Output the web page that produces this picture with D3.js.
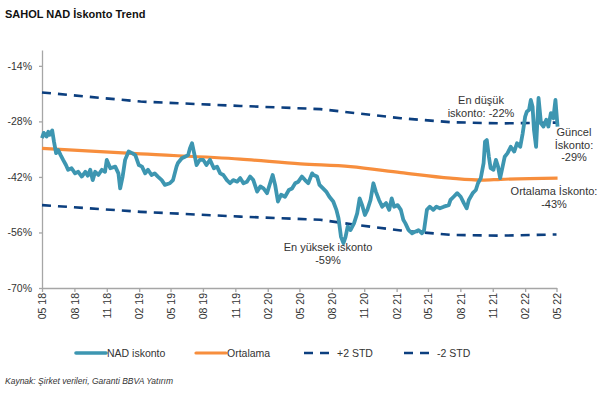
<!DOCTYPE html>
<html>
<head>
<meta charset="utf-8">
<script src="https://cdn.jsdelivr.net/npm/d3@7"></script>
<style>
  body { margin: 0; background: #fff; }
  text { font-family: "Liberation Sans", Arial, sans-serif; fill: #333; }
</style>
</head>
<body>
<div id="chart"></div>
<script>
// NAD iskonto (weekly-ish trace)
const navDates = ["2018-05-01","2018-05-06","2018-05-14","2018-05-19","2018-05-23","2018-05-30","2018-06-04","2018-06-10","2018-06-16","2018-06-23","2018-06-30","2018-07-08","2018-07-14","2018-07-24","2018-08-03","2018-08-12","2018-08-22","2018-09-01","2018-09-08","2018-09-15","2018-09-22","2018-09-29","2018-10-08","2018-10-18","2018-10-27","2018-11-01","2018-11-11","2018-11-25","2018-12-04","2018-12-09","2018-12-16","2018-12-23","2019-01-02","2019-01-12","2019-01-21","2019-01-31","2019-02-09","2019-02-18","2019-02-26","2019-03-08","2019-03-17","2019-03-26","2019-04-06","2019-04-15","2019-04-29","2019-05-08","2019-05-18","2019-05-22","2019-06-02","2019-06-11","2019-06-20","2019-06-25","2019-07-01","2019-07-07","2019-07-14","2019-07-23","2019-08-02","2019-08-11","2019-08-21","2019-09-01","2019-09-10","2019-09-19","2019-09-28","2019-10-08","2019-10-17","2019-10-26","2019-11-06","2019-11-15","2019-11-24","2019-12-04","2019-12-13","2019-12-22","2020-01-02","2020-01-11","2020-01-20","2020-01-30","2020-02-09","2020-02-15","2020-02-22","2020-03-01","2020-03-10","2020-03-21","2020-04-01","2020-04-10","2020-04-19","2020-04-28","2020-05-08","2020-05-17","2020-05-26","2020-06-06","2020-06-10","2020-06-20","2020-06-27","2020-07-07","2020-07-16","2020-07-25","2020-08-05","2020-08-14","2020-08-20","2020-08-27","2020-09-03","2020-09-09","2020-09-15","2020-09-23","2020-10-03","2020-10-12","2020-10-19","2020-10-26","2020-11-03","2020-11-10","2020-11-19","2020-11-27","2020-12-04","2020-12-13","2020-12-22","2021-01-02","2021-01-11","2021-01-18","2021-01-25","2021-02-04","2021-02-13","2021-02-20","2021-02-26","2021-03-07","2021-03-17","2021-03-26","2021-04-04","2021-04-14","2021-04-20","2021-04-28","2021-05-06","2021-05-16","2021-05-25","2021-06-04","2021-06-15","2021-06-29","2021-07-04","2021-07-13","2021-07-23","2021-08-02","2021-08-11","2021-08-19","2021-08-25","2021-09-05","2021-09-14","2021-09-20","2021-09-28","2021-10-06","2021-10-10","2021-10-15","2021-10-21","2021-10-26","2021-11-03","2021-11-10","2021-11-16","2021-11-22","2021-11-29","2021-12-05","2021-12-13","2021-12-22","2022-01-01","2022-01-09","2022-01-18","2022-01-25","2022-02-01","2022-02-06","2022-02-12","2022-02-17","2022-02-22","2022-02-26","2022-03-04","2022-03-11","2022-03-18","2022-03-25","2022-04-02","2022-04-08","2022-04-15","2022-04-22","2022-04-28","2022-05-04"];
const navValues = [-32.2,-30.9,-31.8,-30.6,-31.4,-30.3,-33.1,-36.0,-35.2,-36.5,-37.7,-39.0,-40.2,-39.8,-41.1,-40.7,-41.9,-40.7,-41.7,-40.2,-42.8,-40.7,-41.5,-40.2,-40.7,-37.7,-39.8,-39.4,-41.1,-44.9,-41.9,-37.7,-35.6,-36.0,-36.5,-39.0,-39.4,-41.1,-40.2,-41.5,-41.1,-41.9,-42.8,-44.0,-43.6,-42.8,-39.4,-38.5,-37.3,-36.9,-36.5,-34.8,-33.5,-36.0,-39.0,-37.7,-37.7,-39.0,-37.7,-39.8,-39.4,-41.1,-41.5,-42.8,-43.6,-42.8,-43.2,-42.3,-43.6,-43.2,-41.9,-42.8,-45.7,-44.4,-44.9,-46.1,-43.2,-41.5,-44.0,-48.2,-46.5,-47.0,-45.3,-44.9,-43.6,-43.2,-41.9,-42.8,-43.6,-41.1,-41.5,-41.9,-44.0,-44.9,-45.7,-47.0,-48.2,-50.3,-52.4,-57.1,-58.7,-57.1,-54.5,-55.4,-53.7,-51.2,-47.4,-49.1,-51.6,-50.3,-47.8,-43.6,-45.7,-47.8,-49.5,-48.6,-50.3,-47.4,-49.5,-49.1,-50.3,-52.8,-53.7,-55.4,-56.2,-55.8,-55.4,-56.2,-55.4,-50.3,-49.5,-50.3,-49.5,-49.9,-49.5,-49.1,-47.8,-47.0,-46.1,-47.0,-48.6,-49.9,-47.8,-46.1,-45.3,-43.6,-42.3,-38.5,-33.1,-32.7,-36.9,-39.8,-40.2,-37.7,-39.4,-42.3,-39.4,-36.9,-36.0,-34.4,-35.6,-33.5,-34.4,-31.0,-26.8,-25.5,-25.1,-22.6,-24.3,-30.1,-34.4,-22.1,-28.5,-29.3,-27.6,-29.3,-25.9,-27.2,-22.6,-29.3];

// Ortalama
const meanDates = ["2018-05-01","2019-02-05","2019-11-15","2020-05-04","2020-09-23","2021-02-13","2021-07-04","2021-10-01","2021-11-24","2022-05-04"];
const meanValues = [-34.8,-36.2,-37.5,-38.7,-39.4,-40.9,-42.3,-42.8,-42.6,-42.3];

// +2 / -2 STD
const upDates = ["2018-05-01","2019-02-05","2019-11-15","2020-06-29","2021-02-13","2021-07-04","2021-11-24","2022-05-01"];
const upValues = [-20.7,-23.0,-24.1,-24.9,-27.2,-28.2,-28.5,-28.3];
const lowDates = ["2018-05-01","2019-02-05","2019-11-15","2020-06-29","2020-09-23","2021-02-13","2021-07-04","2021-11-24","2022-05-01"];
const lowValues = [-49.1,-50.8,-52.0,-52.8,-53.9,-55.5,-56.6,-56.8,-56.5];

const xTickLabels = ["05 18","08 18","11 18","02 19","05 19","08 19","11 19","02 20","05 20","08 20","11 20","02 21","05 21","08 21","11 21","02 22","05 22"];
const yTicks = [-14, -28, -42, -56, -70];

const legendNames = ["NAD iskonto", "Ortalama", "+2 STD", "-2 STD"];

const width = 609, height = 393;
const mLeft = 42, mRight = 556.5, mTop = 50, mBottom = 288;

const parse = d3.timeParse("%Y-%m-%d");
const parseTick = d3.timeParse("%m %y");

const x = d3.scaleTime()
  .domain([parse("2018-05-01"), parse("2022-05-01")])
  .range([mLeft, mRight]);
const y = d3.scaleLinear().domain([-70, -10]).range([mBottom, mTop]);

const svg = d3.select("#chart").append("svg")
  .attr("width", width)
  .attr("height", height);

// title
svg.append("text")
  .attr("x", 5).attr("y", 18)
  .style("font-size", "11px").style("font-weight", "bold").style("fill", "#111")
  .text("SAHOL NAD İskonto Trend");

const line = d3.line().x(d => x(d[0])).y(d => y(d[1]));
const zip = (ds, vs) => ds.map((d, i) => [parse(d), vs[i]]);

const colors = { nav: "#3d96b1", mean: "#f78e3d", std: "#0c3f7f" };

// axes
const xAxis = svg.append("g")
  .attr("transform", "translate(0," + mBottom + ")")
  .call(d3.axisBottom(x)
    .tickValues(xTickLabels.map(parseTick))
    .tickFormat(d3.timeFormat("%m %y"))
    .tickSize(4).tickSizeOuter(0));
xAxis.selectAll("text")
  .attr("transform", "rotate(-90)")
  .attr("x", -5).attr("y", 0).attr("dy", "0.35em")
  .attr("text-anchor", "end")
  .style("font-size", "10.5px").style("font-family", "Liberation Sans, Arial, sans-serif");

const yAxis = svg.append("g")
  .attr("transform", "translate(" + mLeft + ",0)")
  .call(d3.axisLeft(y).tickValues(yTicks).tickFormat(d => d + "%").tickSize(3).tickPadding(7).tickSizeOuter(0));
yAxis.selectAll("text")
  .style("font-size", "10.5px").style("font-family", "Liberation Sans, Arial, sans-serif");

svg.selectAll(".domain, .tick line").attr("stroke", "#a6a6a6").attr("stroke-width", 1.3);
svg.selectAll(".tick text").attr("fill", "#333");

// series
svg.append("path").datum(zip(upDates, upValues))
  .attr("d", line).attr("fill", "none")
  .attr("stroke", colors.std).attr("stroke-width", 2.6).attr("stroke-dasharray", "9,7");
svg.append("path").datum(zip(lowDates, lowValues))
  .attr("d", line).attr("fill", "none")
  .attr("stroke", colors.std).attr("stroke-width", 2.6).attr("stroke-dasharray", "9,7");
svg.append("path").datum(zip(meanDates, meanValues))
  .attr("d", line.curve(d3.curveMonotoneX)).attr("fill", "none")
  .attr("stroke", colors.mean).attr("stroke-width", 3.2);
line.curve(d3.curveLinear);
svg.append("path").datum(zip(navDates, navValues))
  .attr("d", line).attr("fill", "none")
  .attr("stroke", colors.nav).attr("stroke-width", 3.8).attr("stroke-linejoin", "round");

// annotations
const notes = [
  { x: 481, y: 104, lines: ["En düşük", "iskonto: -22%"] },
  { x: 574, y: 136, lines: ["Güncel", "İskonto:", "-29%"] },
  { x: 554, y: 195, lines: ["Ortalama İskonto:", "-43%"] },
  { x: 328, y: 251, lines: ["En yüksek iskonto", "-59%"] }
];
notes.forEach(n => {
  const t = svg.append("text")
    .attr("text-anchor", "middle")
    .style("font-size", "11px").style("fill", "#333");
  n.lines.forEach((l, i) => {
    t.append("tspan").attr("x", n.x).attr("y", n.y + i * 12.5).text(l);
  });
});

// legend
const legX = [76, 196, 304, 404];
const legStyles = [
  { c: colors.nav, w: 3.6, dash: null },
  { c: colors.mean, w: 3.2, dash: null },
  { c: colors.std, w: 2.6, dash: "9,7" },
  { c: colors.std, w: 2.6, dash: "9,7" }
];
const lg = svg.append("g");
legendNames.forEach((name, i) => {
  const s = legStyles[i];
  const dashed = !!s.dash;
  lg.append("line")
    .attr("x1", legX[i]).attr("x2", legX[i] + (dashed ? 25 : 30))
    .attr("y1", 353).attr("y2", 353)
    .attr("stroke", s.c).attr("stroke-width", s.w)
    .attr("stroke-linecap", dashed ? "butt" : "round")
    .attr("stroke-dasharray", s.dash);
  lg.append("text")
    .attr("x", legX[i] + (dashed ? 33 : 31)).attr("y", 353).attr("dy", "0.35em")
    .style("font-size", "10.5px")
    .text(name);
});

// source
svg.append("text")
  .attr("x", 5).attr("y", 384)
  .style("font-size", "8.5px").style("font-style", "italic").style("fill", "#333")
  .text("Kaynak: Şirket verileri, Garanti BBVA Yatırım");
</script>
</body>
</html>
